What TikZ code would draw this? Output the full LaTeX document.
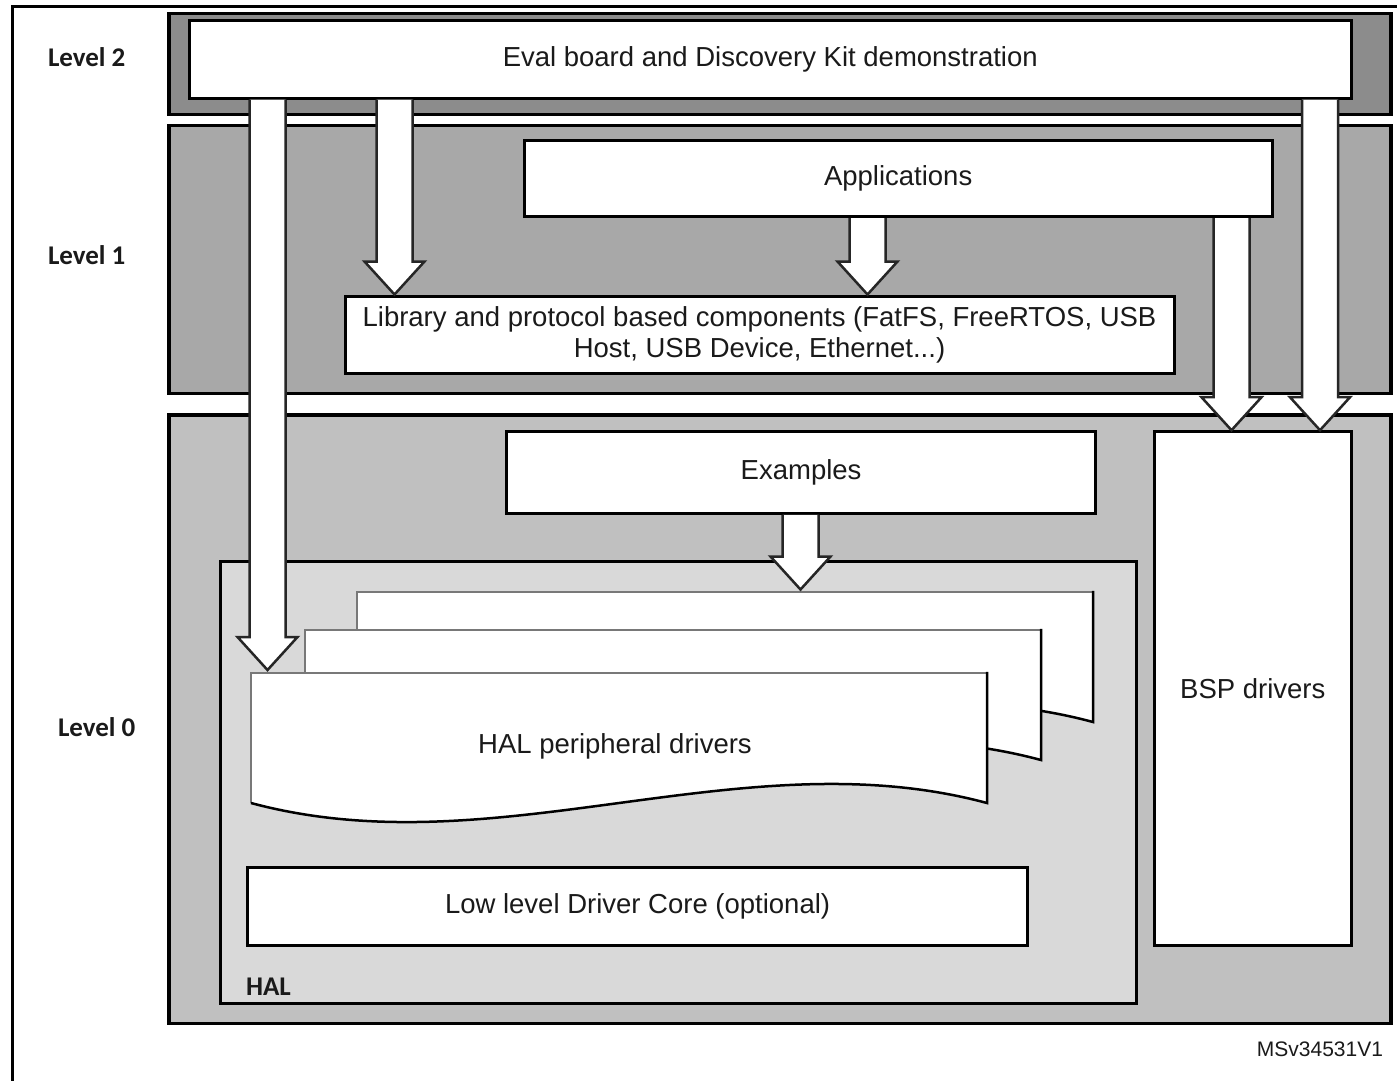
\documentclass[tikz,border=0pt]{standalone}
\usepackage{fontspec}
\setmainfont{Liberation Sans}
\newfontfamily\lblfont{Carlito}
\usetikzlibrary{calc}
\definecolor{lvltwo}{HTML}{8C8C8C}
\definecolor{lvlone}{HTML}{A8A8A8}
\definecolor{lvlzero}{HTML}{C0C0C0}
\definecolor{halgray}{HTML}{D9D9D9}
\definecolor{pagegray}{HTML}{787878}
\definecolor{txt}{HTML}{1A1A1A}

% block arrow: #1 = x centre, #2 = source anchor (top), #3 = target anchor (tip)
\newcommand\blockarrow[3]{%
  \fill[white] let \p1=(#2), \p2=(#3) in
    ({#1pt-18pt},{\y1-1.5pt}) -- ({#1pt-18pt},{\y2+34.5pt}) -- ({#1pt-30pt},{\y2+34.5pt})
    -- ({#1pt},{\y2+1.5pt}) -- ({#1pt+30pt},{\y2+34.5pt}) -- ({#1pt+18pt},{\y2+34.5pt})
    -- ({#1pt+18pt},{\y1-1.5pt}) -- cycle;
  \draw[barrowline] let \p1=(#2), \p2=(#3) in
    ({#1pt-18pt},{\y1-1.5pt}) -- ({#1pt-18pt},{\y2+34.5pt}) -- ({#1pt-30pt},{\y2+34.5pt})
    -- ({#1pt},{\y2+1.5pt}) -- ({#1pt+30pt},{\y2+34.5pt}) -- ({#1pt+18pt},{\y2+34.5pt})
    -- ({#1pt+18pt},{\y1-1.5pt});
}
% document page: #1 dx, #2 dy, #3 name of top coordinate
\newcommand\docpage[3]{%
  \begin{scope}[shift={(#1,#2)}]
    \fill[white] (251,803) -- (251,673) -- (987,673) -- (987,803)
      .. controls (741.7,737) and (496.3,869) .. (251,803) -- cycle;
    \draw[pagegray, line width=2.5pt] (251,803) -- (251,673) -- (987,673);
    \draw[black, line width=2.5pt] (987,671.75) -- (987,803)
      .. controls (741.7,737) and (496.3,869) .. (251,803);
    \coordinate (#3) at (619,673);
  \end{scope}}

\begin{document}
\begin{tikzpicture}[x=1pt,y=-1pt,
  every node/.style={inner sep=0pt, outer sep=0pt, text=txt},
  level/.style={draw=black, line width=3.5pt, rectangle},
  box/.style={draw=black, fill=white, line width=3pt, rectangle,
    font=\fontsize{27.5}{31}\selectfont, align=center},
  lbl/.style={font=\lblfont\bfseries\fontsize{27}{30}\selectfont, anchor=west},
  barrowline/.style={draw=black!85, line width=2.5pt, line join=miter},
  txtnode/.style={font=\fontsize{27.5}{31}\selectfont, align=center},
]
\useasboundingbox (0,0) rectangle (1397,1080);
\fill[white] (0,0) rectangle (1397,1080);

% outer frame
\draw[line width=3pt] (12.5,1090) -- (12.5,6.7) -- (1405,6.7);

% level areas
\node[level, fill=lvltwo, minimum width=1222pt, minimum height=101pt] (L2) at (780,64) {};
\node[level, fill=lvlone, minimum width=1222pt, minimum height=268pt] (L1) at (780,259.5) {};
\node[level, fill=lvlzero, minimum width=1222pt, minimum height=608.7pt] (L0) at (780,719.35) {};

% boxes
\node[box, minimum width=1161.5pt, minimum height=77.5pt] (Eval) at (770.25,59.25)
  {Eval board and Discovery Kit demonstration};
\node[box, minimum width=748.3pt, minimum height=76.5pt] (Apps) at (898.15,178.25)
  {Applications};
\node[box, minimum width=829pt, minimum height=77.3pt] (Lib) at (759.5,334.65)
  {Library and protocol based components (FatFS, FreeRTOS, USB\\Host, USB Device, Ethernet...)};
\node[box, minimum width=588.8pt, minimum height=81.6pt] (Ex) at (801.1,472.5)
  {Examples};
\node[box, minimum width=197.5pt, minimum height=513.8pt] (BSP) at (1252.75,688.6)
  {BSP drivers};
\node[level, fill=halgray, line width=3pt, minimum width=916.5pt, minimum height=441.6pt] (HAL) at (678.25,782.5) {};
\node[box, minimum width=779.8pt, minimum height=78pt] (LL) at (637.6,906.5)
  {Low level Driver Core (optional)};

% HAL peripheral driver pages
\docpage{106}{-81}{backTop}
\docpage{54}{-43}{midTop}
\docpage{0}{0}{frontTop}
\node[txtnode] (HALpd) at (615,746) {HAL peripheral drivers};
\coordinate (frontTL) at (267.5,671.5);
\coordinate (backArr) at (800.5,591);

% labels
\node[lbl] (lv2) at (48,57) {Level 2};
\node[lbl] (lv1) at (48,255) {Level 1};
\node[lbl] (lv0) at (58,727) {Level 0};
\node[lbl] (hallbl) at (246,987) {HAL};
\node[font=\fontsize{21}{24}\selectfont, anchor=east] (msv) at (1383,1049) {MSv34531V1};

% block arrows
\blockarrow{267.5}{Eval.south}{frontTL}
\blockarrow{394.5}{Eval.south}{Lib.north}
\blockarrow{867.5}{Apps.south}{Lib.north}
\blockarrow{1231.5}{Apps.south}{BSP.north}
\blockarrow{1320}{Eval.south}{BSP.north}
\blockarrow{800.5}{Ex.south}{backArr}
\end{tikzpicture}
\end{document}
